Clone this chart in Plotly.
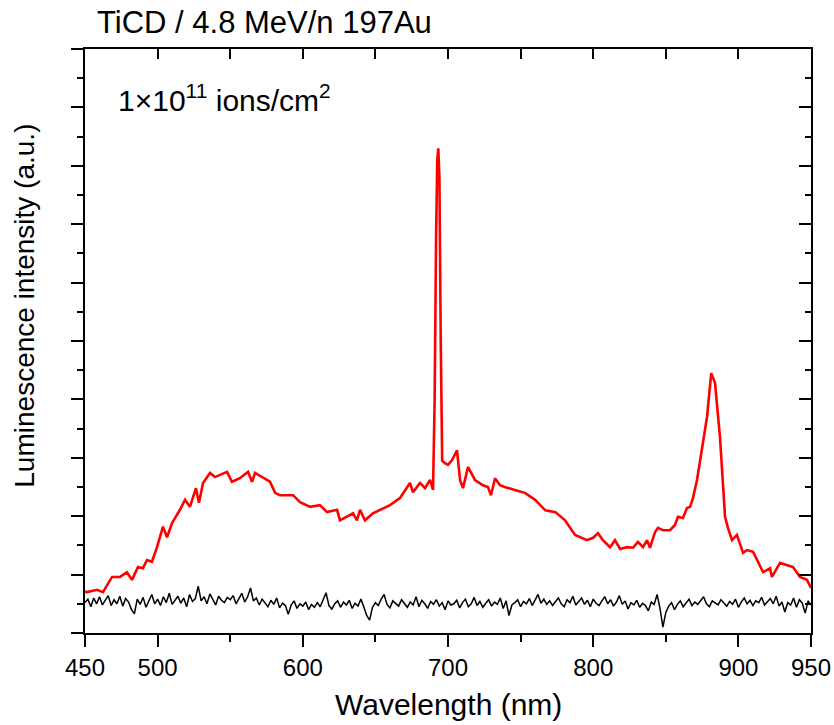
import plotly.graph_objects as go

# ---------------- data ----------------
red_x = [450, 451.4, 458.3, 462.4, 468.6, 474.1, 478.9, 482.4, 486.5, 489.9, 492.7, 496.1, 499.6,
         503.7, 506.5, 509.9, 515.4, 518.9, 522.3, 526.4, 528.5, 531.3, 536.1, 539.5, 547.8, 551.2,
         556.7, 562.3, 565.0, 567.1, 577.4, 580.9, 584.3, 593.3, 598.1, 605.0, 611.8, 616.7, 623.6,
         625.6, 634.6, 637.3, 639.4, 642.8, 648.3, 653.2, 660.1, 666.9, 673.8, 675.9, 680.7, 684.2,
         687.6, 689.7, 690.8, 691.8, 692.6, 693.3, 694.1, 695.0, 696.0, 697.9, 700.0, 702.8, 706.2,
         708.3, 710.3, 713.8, 718.6, 724.1, 727.5, 729.6, 732.4, 735.8, 739, 746, 753, 760, 767, 774,
         780.6, 787.5, 790.9, 795.7, 799.9, 803.3, 806.7, 811.6, 815.0, 818.5, 823.3, 827.4, 830.8,
         834.3, 837.1, 839.1, 842.6, 844.6, 848.1, 852.9, 856.3, 858.4, 861.8, 864.6, 866.7, 868.7,
         871.5, 874.9, 878.4, 881.3, 883.9, 887.3, 890.8, 892.8, 895.6, 899.0, 903.2, 905.9, 910.1,
         913.5, 917.0, 921.8, 923.1, 928.7, 933.5, 937.6, 942.4, 947.2, 950]
red_y = [0.71, 0.70, 0.74, 0.70, 0.96, 0.96, 1.04, 0.91, 1.13, 1.11, 1.25, 1.22, 1.47,
         1.82, 1.64, 1.88, 2.11, 2.28, 2.16, 2.48, 2.23, 2.57, 2.74, 2.67, 2.76, 2.59,
         2.65, 2.76, 2.59, 2.74, 2.59, 2.40, 2.36, 2.36, 2.24, 2.16, 2.19, 2.07, 2.11,
         1.93, 2.05, 1.93, 2.11, 1.93, 2.05, 2.11, 2.19, 2.31, 2.57, 2.41, 2.57, 2.48,
         2.62, 2.45, 4.0, 6.8, 8.1, 8.3, 7.8, 5.0, 2.95, 2.91, 2.88, 2.96, 3.13,
         2.62, 2.48, 2.84, 2.62, 2.53, 2.50, 2.36, 2.65, 2.53, 2.50, 2.45, 2.40, 2.28, 2.10, 2.07,
         1.93, 1.68, 1.64, 1.59, 1.63, 1.71, 1.59, 1.47, 1.59, 1.44, 1.47, 1.46, 1.56,
         1.47, 1.59, 1.46, 1.73, 1.80, 1.76, 1.76, 1.85, 1.99, 1.97, 2.14, 2.16, 2.31,
         2.62, 3.13, 3.70, 4.45, 4.28, 3.36, 1.99, 1.80, 1.59, 1.68, 1.37, 1.42, 1.39,
         1.22, 1.04, 1.11, 0.96, 1.20, 1.16, 1.13, 0.96, 0.91, 0.77]

black_x = list(range(450, 951, 2))
black_y = [
    0.52, 0.58, 0.45, 0.60, 0.50, 0.62, 0.48, 0.55, 0.64, 0.47,
    0.57, 0.50, 0.63, 0.46, 0.59, 0.53, 0.40, 0.33, 0.58, 0.49,
    0.61, 0.44, 0.56, 0.66, 0.50, 0.58, 0.47, 0.62, 0.52, 0.68,
    0.49, 0.57, 0.63, 0.51, 0.60, 0.45, 0.66, 0.54, 0.59, 0.80,
    0.55, 0.62, 0.50, 0.67, 0.58, 0.48, 0.63, 0.56, 0.52, 0.61,
    0.57, 0.64, 0.50, 0.59, 0.68, 0.53, 0.62, 0.77, 0.55, 0.60,
    0.48, 0.58, 0.52, 0.45, 0.56, 0.49, 0.60, 0.43, 0.51, 0.47,
    0.32, 0.48, 0.55, 0.42, 0.50, 0.46, 0.53, 0.40, 0.49, 0.44,
    0.52, 0.45, 0.57, 0.69, 0.47, 0.41, 0.50, 0.55, 0.44, 0.53,
    0.48, 0.56, 0.42, 0.51, 0.46, 0.58, 0.45, 0.30, 0.22, 0.44,
    0.52, 0.47, 0.58, 0.66, 0.49, 0.43, 0.55, 0.50, 0.46, 0.57,
    0.51, 0.44, 0.53, 0.48, 0.62, 0.45, 0.56, 0.50, 0.42, 0.54,
    0.49, 0.57, 0.46, 0.52, 0.40, 0.55, 0.48, 0.50, 0.56, 0.43,
    0.52, 0.58, 0.45, 0.50, 0.61, 0.47, 0.54, 0.44, 0.51, 0.57,
    0.46, 0.53, 0.49, 0.60, 0.42, 0.55, 0.30, 0.48, 0.52, 0.57,
    0.45, 0.54, 0.50, 0.59, 0.47, 0.56, 0.66, 0.51, 0.58, 0.49,
    0.55, 0.47, 0.53, 0.60, 0.50, 0.45, 0.57, 0.52, 0.63, 0.48,
    0.54, 0.60, 0.49, 0.56, 0.45, 0.58, 0.51, 0.47, 0.55, 0.62,
    0.50, 0.57, 0.46, 0.53, 0.64, 0.49, 0.55, 0.41, 0.52, 0.48,
    0.56, 0.44, 0.51, 0.47, 0.38, 0.53, 0.49, 0.66, 0.42, 0.10,
    0.35, 0.46, 0.52, 0.40, 0.49, 0.55, 0.45, 0.51, 0.58, 0.47,
    0.53, 0.49, 0.56, 0.62, 0.50, 0.45, 0.55, 0.52, 0.48, 0.57,
    0.51, 0.46, 0.54, 0.49, 0.58, 0.44, 0.53, 0.60, 0.50, 0.56,
    0.47, 0.55, 0.52, 0.61, 0.48, 0.54, 0.59, 0.50, 0.63, 0.46,
    0.53, 0.36, 0.52, 0.48, 0.60, 0.44, 0.57, 0.51, 0.34, 0.55,
    0.48]

x_tickvals = [450, 500, 600, 700, 800, 900, 950]
x_ticktext = ["450", "500", "600", "700", "800", "900", "950"]

title_text = "TiCD / 4.8 MeV/n 197Au"
fluence_text = "1×10<sup>11</sup> ions/cm<sup>2</sup>"
x_title = "Wavelength (nm)"
y_title = "Luminescence intensity (a.u.)"

FONT = "Liberation Sans, Arial, sans-serif"

fig = go.Figure()
fig.add_trace(go.Scatter(x=black_x, y=black_y, mode="lines",
                         line=dict(color="black", width=1.5), showlegend=False))
fig.add_trace(go.Scatter(x=red_x, y=red_y, mode="lines",
                         line=dict(color="#ff0000", width=2.6), showlegend=False))
# invisible trace to anchor the top/right mirror axes
fig.add_trace(go.Scatter(x=[450], y=[0], xaxis="x2", yaxis="y2", mode="markers",
                         marker=dict(opacity=0), showlegend=False, hoverinfo="skip"))

fig.update_layout(
    width=834, height=725,
    margin=dict(l=85, r=23, t=49, b=92, autoexpand=False),
    paper_bgcolor="white", plot_bgcolor="white",
    font=dict(family=FONT, color="black"),
    xaxis=dict(range=[450, 950], showline=True, linecolor="black", linewidth=2,
               automargin=False,
               ticks="outside", ticklen=12, tickwidth=2, tickcolor="black",
               tickmode="array", tickvals=x_tickvals, ticktext=x_ticktext,
               tickfont=dict(size=24, family=FONT, color="black"),
               minor=dict(tickmode="linear", tick0=450, dtick=50, ticks="outside",
                          ticklen=7, tickwidth=2, tickcolor="black"),
               showgrid=False, zeroline=False),
    xaxis2=dict(range=[450, 950], overlaying="x", side="top", showline=True,
                automargin=False,
                linecolor="black", linewidth=2, ticks="inside", ticklen=10, tickwidth=2,
                tickcolor="black", tickmode="linear", tick0=450, dtick=50,
                showticklabels=False, showgrid=False, zeroline=False),
    yaxis=dict(range=[0, 10], showline=True, linecolor="black", linewidth=2,
               automargin=False,
               ticks="outside", ticklen=12, tickwidth=2, tickcolor="black",
               tickmode="linear", tick0=0, dtick=1, showticklabels=False,
               minor=dict(tickmode="linear", tick0=0, dtick=0.5, ticks="outside",
                          ticklen=6, tickwidth=2, tickcolor="black"),
               showgrid=False, zeroline=False),
    yaxis2=dict(range=[0, 10], overlaying="y", side="right", showline=True,
                automargin=False,
                linecolor="black", linewidth=2, ticks="inside", ticklen=12, tickwidth=2,
                tickcolor="black", tickmode="linear", tick0=0, dtick=1,
                showticklabels=False,
                minor=dict(tickmode="linear", tick0=0, dtick=0.5, ticks="inside",
                           ticklen=6, tickwidth=2, tickcolor="black"),
                showgrid=False, zeroline=False),
    annotations=[
        dict(text=title_text, xref="paper", yref="paper", x=0.014, y=1.046,
             xanchor="left", yanchor="middle", showarrow=False,
             font=dict(size=31, family=FONT, color="black")),
        dict(text=fluence_text, xref="paper", yref="paper", x=0.043, y=0.916,
             xanchor="left", yanchor="middle", showarrow=False,
             font=dict(size=30, family=FONT, color="black")),
        dict(text=x_title, xref="paper", yref="paper", x=0.5, y=-0.122,
             xanchor="center", yanchor="middle", showarrow=False,
             font=dict(size=30, family=FONT, color="black")),
        dict(text=y_title, xref="paper", yref="paper", x=-0.083, y=0.56,
             xanchor="center", yanchor="middle", showarrow=False, textangle=-90,
             font=dict(size=28, family=FONT, color="black")),
    ],
)

fig.write_html("out.html")
